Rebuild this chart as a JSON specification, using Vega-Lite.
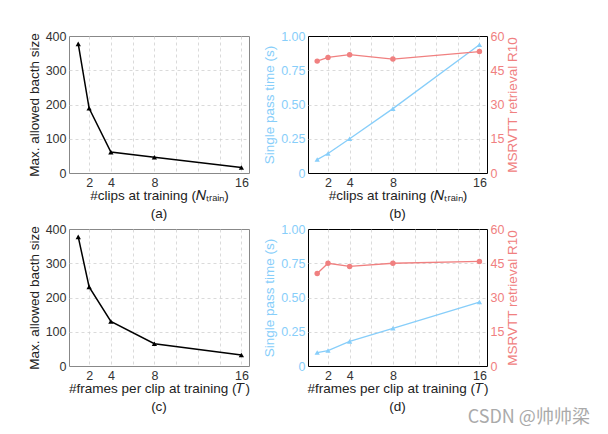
{
  "$schema": "https://vega.github.io/schema/vega-lite/v6.json",
  "padding": {"left": 26, "top": 29, "right": 5, "bottom": 5},
  "background": "white",
  "config": {
    "font": "Liberation Sans",
    "axis": {
      "labelFont": "Liberation Sans", "titleFont": "Liberation Sans",
      "labelFontSize": 12.5, "titleFontSize": 13.5, "titleFontWeight": "normal",
      "labelColor": "#333", "titleColor": "#222",
      "ticks": false, "domain": false, "labelPadding": 3,
      "gridDash": [3, 3], "gridColor": "#d0d0d0", "gridWidth": 0.8
    },
    "axisX": {"titlePadding": 0},
    "title": {"font": "Liberation Sans", "fontWeight": "normal", "fontSize": 13.5, "color": "#222"}
  },
  "title": {"text": "CSDN @帅帅梁", "orient": "bottom", "anchor": "end", "font": "Noto Sans CJK SC", "fontSize": 18, "color": "#aaaaaa", "offset": -5, "dx": 70},
  "datasets": {
    "bs": [
      {"panel": "a", "x": 1, "y": 377},
      {"panel": "a", "x": 2, "y": 189},
      {"panel": "a", "x": 4, "y": 61},
      {"panel": "a", "x": 8, "y": 46},
      {"panel": "a", "x": 16, "y": 16},
      {"panel": "c", "x": 1, "y": 377},
      {"panel": "c", "x": 2, "y": 231},
      {"panel": "c", "x": 4, "y": 130},
      {"panel": "c", "x": 8, "y": 65},
      {"panel": "c", "x": 16, "y": 32}
    ],
    "tr": [
      {"panel": "b", "x": 1, "time": 0.098, "r10": 49.0},
      {"panel": "b", "x": 2, "time": 0.142, "r10": 50.6},
      {"panel": "b", "x": 4, "time": 0.25, "r10": 51.8},
      {"panel": "b", "x": 8, "time": 0.47, "r10": 49.9},
      {"panel": "b", "x": 16, "time": 0.936, "r10": 53.2},
      {"panel": "d", "x": 1, "time": 0.098, "r10": 40.5},
      {"panel": "d", "x": 2, "time": 0.113, "r10": 45.0},
      {"panel": "d", "x": 4, "time": 0.18, "r10": 43.6},
      {"panel": "d", "x": 8, "time": 0.275, "r10": 45.0},
      {"panel": "d", "x": 16, "time": 0.467, "r10": 45.8}
    ]
  },
  "vconcat": [
    {
      "hconcat": [
        {
          "width": 180, "height": 137,
          "view": {"stroke": "#888"},
          "title": {"text": "(a)", "orient": "bottom", "offset": 5},
          "data": {"name": "bs"},
          "transform": [{"filter": "datum.panel === 'a'"}],
          "mark": {"type": "line", "color": "black", "strokeWidth": 1.5, "point": {"shape": "triangle-up", "filled": true, "color": "black", "size": 28}},
          "encoding": {
            "x": {"field": "x", "type": "quantitative", "scale": {"domain": [0.15, 16.7], "nice": false, "zero": false},
                  "axis": {"values": [2, 4, 6, 8, 10, 12, 14, 16], "labelExpr": "indexof([2,4,8,16], datum.value) >= 0 ? datum.label : ''", "title": "#clips at training (𝑁ₜᵣₐᵢₙ)"}},
            "y": {"field": "y", "type": "quantitative", "scale": {"domain": [0, 400], "nice": false},
                  "axis": {"values": [0, 100, 200, 300, 400], "title": "Max. allowed bacth size", "gridOpacity": {"condition": {"test": "datum.value === 0 || datum.value === 400", "value": 0}, "value": 1}}}
          }
        },
        {
          "width": 179, "height": 137,
          "view": {"stroke": "black"},
          "title": {"text": "(b)", "orient": "bottom", "offset": 5},
          "data": {"name": "tr"},
          "transform": [{"filter": "datum.panel === 'b'"}],
          "encoding": {
            "x": {"field": "x", "type": "quantitative", "scale": {"domain": [0.15, 16.7], "nice": false, "zero": false},
                  "axis": {"values": [2, 4, 6, 8, 10, 12, 14, 16], "labelExpr": "indexof([2,4,8,16], datum.value) >= 0 ? datum.label : ''", "title": "#clips at training (𝑁ₜᵣₐᵢₙ)"}}
          },
          "layer": [
            {
              "mark": {"type": "line", "color": "#87CEFA", "strokeWidth": 1.3, "point": {"shape": "triangle-up", "filled": true, "color": "#87CEFA", "size": 28}},
              "encoding": {
                "y": {"field": "time", "type": "quantitative", "scale": {"domain": [0, 1], "nice": false},
                      "axis": {"values": [0, 0.25, 0.5, 0.75, 1], "format": ".2f", "labelExpr": "datum.value === 0 ? '0' : datum.label", "title": "Single pass time (s)", "labelColor": "#87CEFA", "titleColor": "#87CEFA", "gridOpacity": {"condition": {"test": "datum.value === 0 || datum.value === 1", "value": 0}, "value": 1}}}
              }
            },
            {
              "mark": {"type": "line", "color": "#F08080", "strokeWidth": 1.3, "point": {"shape": "circle", "filled": true, "color": "#F08080", "size": 30, "opacity": 1}},
              "encoding": {
                "y": {"field": "r10", "type": "quantitative", "scale": {"domain": [0, 60], "nice": false},
                      "axis": {"orient": "right", "grid": false, "titleAngle": 270, "titleBaseline": "top", "titlePadding": 2, "values": [0, 15, 30, 45, 60], "title": "MSRVTT retrieval R10", "labelColor": "#F08080", "titleColor": "#F08080"}}
              }
            }
          ],
          "resolve": {"scale": {"y": "independent"}}
        }
      ],
      "spacing": 12
    },
    {
      "hconcat": [
        {
          "width": 180, "height": 137,
          "view": {"stroke": "#888"},
          "title": {"text": "(c)", "orient": "bottom", "offset": 5},
          "data": {"name": "bs"},
          "transform": [{"filter": "datum.panel === 'c'"}],
          "mark": {"type": "line", "color": "black", "strokeWidth": 1.5, "point": {"shape": "triangle-up", "filled": true, "color": "black", "size": 28}},
          "encoding": {
            "x": {"field": "x", "type": "quantitative", "scale": {"domain": [0.15, 16.7], "nice": false, "zero": false},
                  "axis": {"values": [2, 4, 6, 8, 10, 12, 14, 16], "labelExpr": "indexof([2,4,8,16], datum.value) >= 0 ? datum.label : ''", "title": "#frames per clip at training (𝑇)"}},
            "y": {"field": "y", "type": "quantitative", "scale": {"domain": [0, 400], "nice": false},
                  "axis": {"values": [0, 100, 200, 300, 400], "title": "Max. allowed bacth size", "gridOpacity": {"condition": {"test": "datum.value === 0 || datum.value === 400", "value": 0}, "value": 1}}}
          }
        },
        {
          "width": 179, "height": 137,
          "view": {"stroke": "black"},
          "title": {"text": "(d)", "orient": "bottom", "offset": 5},
          "data": {"name": "tr"},
          "transform": [{"filter": "datum.panel === 'd'"}],
          "encoding": {
            "x": {"field": "x", "type": "quantitative", "scale": {"domain": [0.15, 16.7], "nice": false, "zero": false},
                  "axis": {"values": [2, 4, 6, 8, 10, 12, 14, 16], "labelExpr": "indexof([2,4,8,16], datum.value) >= 0 ? datum.label : ''", "title": "#frames per clip at training (𝑇)"}}
          },
          "layer": [
            {
              "mark": {"type": "line", "color": "#87CEFA", "strokeWidth": 1.3, "point": {"shape": "triangle-up", "filled": true, "color": "#87CEFA", "size": 28}},
              "encoding": {
                "y": {"field": "time", "type": "quantitative", "scale": {"domain": [0, 1], "nice": false},
                      "axis": {"values": [0, 0.25, 0.5, 0.75, 1], "format": ".2f", "labelExpr": "datum.value === 0 ? '0' : datum.label", "title": "Single pass time (s)", "labelColor": "#87CEFA", "titleColor": "#87CEFA", "gridOpacity": {"condition": {"test": "datum.value === 0 || datum.value === 1", "value": 0}, "value": 1}}}
              }
            },
            {
              "mark": {"type": "line", "color": "#F08080", "strokeWidth": 1.3, "point": {"shape": "circle", "filled": true, "color": "#F08080", "size": 30, "opacity": 1}},
              "encoding": {
                "y": {"field": "r10", "type": "quantitative", "scale": {"domain": [0, 60], "nice": false},
                      "axis": {"orient": "right", "grid": false, "titleAngle": 270, "titleBaseline": "top", "titlePadding": 2, "values": [0, 15, 30, 45, 60], "title": "MSRVTT retrieval R10", "labelColor": "#F08080", "titleColor": "#F08080"}}
              }
            }
          ],
          "resolve": {"scale": {"y": "independent"}}
        }
      ],
      "spacing": 12
    }
  ],
  "spacing": 1
}
